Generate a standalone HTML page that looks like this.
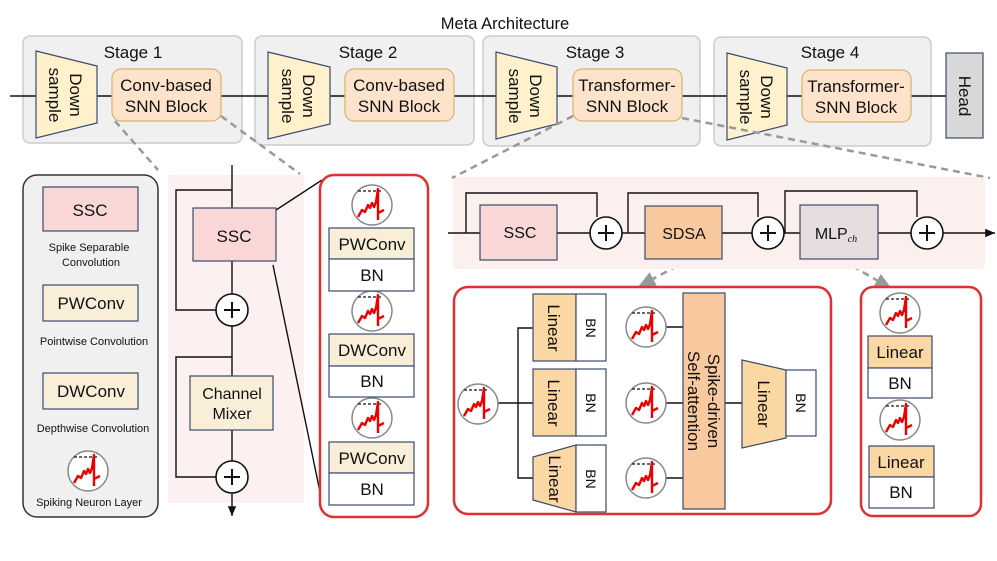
<!DOCTYPE html>
<html><head><meta charset="utf-8"><style>
html,body{margin:0;padding:0;background:#fff}
svg{display:block}
text{font-family:"Liberation Sans",sans-serif;fill:#111}
</style></head><body>
<svg width="997" height="561" viewBox="0 0 997 561" xmlns="http://www.w3.org/2000/svg">
<defs>
<symbol id="nr" viewBox="-21 -21 42 42" overflow="visible">
<circle cx="0" cy="0" r="20" fill="#fff" stroke="#888" stroke-width="1.5"/>
<line x1="-14" y1="-14" x2="9" y2="-14" stroke="#111" stroke-width="1.2" stroke-dasharray="3,2"/>
<path d="M-14,12 L-10,5 L-7,7 L-4,0 L-2,3 L0,-2 L2,2 L4,-3 L6,-16 L6,15 M6,8 L12,5" fill="none" stroke="#e00" stroke-width="2.4" stroke-linejoin="round"/>
</symbol>
<marker id="ar" markerWidth="8" markerHeight="8" refX="7" refY="4" orient="auto"><path d="M0,1 L7,4 L0,7z" fill="#111"/></marker>
<marker id="ag" markerWidth="8" markerHeight="8" refX="6" refY="4" orient="auto"><path d="M0,1 L7,4 L0,7z" fill="#999"/></marker>
</defs>

<text x="505" y="29" font-size="16.5" text-anchor="middle">Meta Architecture</text>

<g fill="#f0f0f0" stroke="#ccc" stroke-width="1.5">
<rect x="23" y="36" width="219" height="107" rx="7"/>
<rect x="255" y="36" width="219" height="109" rx="7"/>
<rect x="483" y="36" width="217" height="110" rx="7"/>
<rect x="714" y="37" width="217" height="109" rx="7"/>
</g>
<line x1="10" y1="96" x2="946" y2="96" stroke="#111" stroke-width="1.6"/>
<g font-size="17" text-anchor="middle">
<text x="133" y="58">Stage 1</text><text x="368" y="58">Stage 2</text><text x="595" y="58">Stage 3</text><text x="830" y="58">Stage 4</text>
</g>
<g fill="#fff1cc" stroke="#3b4a6b" stroke-width="1.2">
<path d="M36,51 L97,66 L97,123 L36,138z"/>
<path d="M268,52 L330,67 L330,124 L268,139z"/>
<path d="M496,52 L557,67 L557,124 L496,139z"/>
<path d="M727,53 L787,68 L787,125 L727,140z"/>
</g>
<g font-size="17" text-anchor="middle">
<text transform="translate(66,95) rotate(90)"><tspan x="0" y="-4">Down</tspan><tspan x="0" y="17">sample</tspan></text>
<text transform="translate(299,96) rotate(90)"><tspan x="0" y="-4">Down</tspan><tspan x="0" y="17">sample</tspan></text>
<text transform="translate(526,96) rotate(90)"><tspan x="0" y="-4">Down</tspan><tspan x="0" y="17">sample</tspan></text>
<text transform="translate(757,97) rotate(90)"><tspan x="0" y="-4">Down</tspan><tspan x="0" y="17">sample</tspan></text>
</g>
<g fill="#fde3cc" stroke="#d9b36a" stroke-width="1.2">
<rect x="112" y="69" width="109" height="52" rx="9"/>
<rect x="345" y="69" width="109" height="52" rx="9"/>
<rect x="573" y="69" width="109" height="52" rx="9"/>
<rect x="802" y="70" width="109" height="52" rx="9"/>
</g>
<g font-size="17" text-anchor="middle">
<text x="166" y="91">Conv-based</text><text x="166" y="112">SNN Block</text>
<text x="399" y="91">Conv-based</text><text x="399" y="112">SNN Block</text>
<text x="627" y="91">Transformer-</text><text x="627" y="112">SNN Block</text>
<text x="856" y="92">Transformer-</text><text x="856" y="113">SNN Block</text>
</g>
<rect x="946" y="53" width="37" height="85" fill="#d8d8d8" stroke="#3b4a6b" stroke-width="1.2"/>
<text transform="translate(965,96) rotate(90)" font-size="17" text-anchor="middle" y="6">Head</text>

<g stroke="#999" stroke-width="2.5" stroke-dasharray="7,5" fill="none">
<line x1="115" y1="121" x2="158" y2="170"/>
<line x1="221" y1="116" x2="300" y2="174"/>
<line x1="573" y1="116" x2="452" y2="178"/>
<line x1="682" y1="118" x2="990" y2="178"/>
<line x1="688" y1="260" x2="640" y2="286" marker-end="url(#ag)"/>
<line x1="842" y1="260" x2="890" y2="288" marker-end="url(#ag)"/>
</g>

<rect x="23" y="175" width="135" height="342" rx="14" fill="#f0f0f0" stroke="#333" stroke-width="1.5"/>
<rect x="43" y="187" width="95" height="44" fill="#f8d7d6" stroke="#3b4a6b" stroke-width="1.2"/>
<text x="90" y="216" font-size="17" text-anchor="middle">SSC</text>
<text x="89" y="251" font-size="11" text-anchor="middle">Spike Separable</text>
<text x="91" y="266" font-size="11" text-anchor="middle">Convolution</text>
<rect x="43" y="285" width="95" height="36" fill="#f9efd9" stroke="#3b4a6b" stroke-width="1.2"/>
<text x="91" y="309" font-size="17" text-anchor="middle">PWConv</text>
<text x="94" y="345" font-size="11" text-anchor="middle">Pointwise Convolution</text>
<rect x="43" y="373" width="95" height="36" fill="#f9efd9" stroke="#3b4a6b" stroke-width="1.2"/>
<text x="91" y="397" font-size="17" text-anchor="middle">DWConv</text>
<text x="93" y="432" font-size="11" text-anchor="middle">Depthwise Convolution</text>
<use href="#nr" x="67" y="450" width="42" height="42"/>
<text x="89" y="506" font-size="11" text-anchor="middle">Spiking Neuron Layer</text>

<rect x="168" y="175" width="136" height="328" fill="#fcf1f0"/>
<g stroke="#111" stroke-width="1.4" fill="none">
<line x1="232" y1="165" x2="232" y2="516" marker-end="url(#ar)"/>
<path d="M232,190 L176,190 L176,310 L216,310"/>
<path d="M232,357 L176,357 L176,477 L216,477"/>
<line x1="273" y1="212" x2="322" y2="180"/>
<line x1="273" y1="265" x2="320" y2="492"/>
</g>
<rect x="193" y="208" width="83" height="53" fill="#f8d7d6" stroke="#3b4a6b" stroke-width="1.2"/>
<text x="234" y="242" font-size="17" text-anchor="middle">SSC</text>
<rect x="190" y="376" width="83" height="54" fill="#f9efd9" stroke="#3b4a6b" stroke-width="1.2"/>
<text x="232" y="399" font-size="16" text-anchor="middle">Channel</text>
<text x="232" y="419" font-size="16" text-anchor="middle">Mixer</text>
<g fill="#fff" stroke="#111" stroke-width="1.6">
<circle cx="232" cy="310" r="16"/><circle cx="232" cy="477" r="16"/>
</g>
<g stroke="#111" stroke-width="2"><path d="M224,310h16M232,302v16M224,477h16M232,469v16"/></g>

<rect x="320" y="175" width="108" height="342" rx="14" fill="#fff" stroke="#e03030" stroke-width="2.5"/>
<use href="#nr" x="351" y="184" width="42" height="42"/>
<use href="#nr" x="351" y="290" width="42" height="42"/>
<use href="#nr" x="351" y="397" width="42" height="42"/>
<g stroke="#3b4a6b" stroke-width="1.2">
<rect x="329" y="228" width="85" height="31" fill="#f9efd9"/><rect x="329" y="259" width="85" height="32" fill="#fff"/>
<rect x="329" y="334" width="85" height="32" fill="#f9efd9"/><rect x="329" y="366" width="85" height="31" fill="#fff"/>
<rect x="329" y="442" width="85" height="31" fill="#f9efd9"/><rect x="329" y="473" width="85" height="32" fill="#fff"/>
</g>
<g font-size="17" text-anchor="middle">
<text x="372" y="250">PWConv</text><text x="372" y="281">BN</text>
<text x="372" y="356">DWConv</text><text x="372" y="387">BN</text>
<text x="372" y="464">PWConv</text><text x="372" y="495">BN</text>
</g>

<rect x="453" y="177" width="532" height="92" rx="5" fill="#fcf0ef"/>
<g stroke="#111" stroke-width="1.4" fill="none">
<line x1="448" y1="233" x2="995" y2="233" marker-end="url(#ar)"/>
<path d="M466,233 V193 H597 V217"/>
<path d="M628,233 V193 H758 V217"/>
<path d="M785,233 V191 H917 V217"/>
</g>
<rect x="480" y="205" width="77" height="55" fill="#f8d7d6" stroke="#3b4a6b" stroke-width="1.2"/>
<text x="520" y="238" font-size="16" text-anchor="middle">SSC</text>
<rect x="645" y="206" width="77" height="53" fill="#f8c99e" stroke="#3b4a6b" stroke-width="1.2"/>
<text x="684" y="239" font-size="16" text-anchor="middle">SDSA</text>
<rect x="800" y="205" width="78" height="54" fill="#e6dede" stroke="#3b4a6b" stroke-width="1.2"/>
<text x="836" y="239" font-size="16" text-anchor="middle">MLP<tspan font-size="10" font-style="italic" font-family="Liberation Serif" dy="3">ch</tspan></text>
<g fill="#fff" stroke="#111" stroke-width="1.6">
<circle cx="606" cy="233" r="16"/><circle cx="768" cy="233" r="16"/><circle cx="927" cy="233" r="16"/>
</g>
<g stroke="#111" stroke-width="2"><path d="M598,233h16M606,225v16M760,233h16M768,225v16M919,233h16M927,225v16"/></g>

<rect x="454" y="287" width="377" height="227" rx="14" fill="#fff" stroke="#e03030" stroke-width="2.5"/>
<g stroke="#111" stroke-width="1.4" fill="none">
<line x1="498" y1="403" x2="533" y2="403"/>
<path d="M533,328 H518 V478 H533"/>
<line x1="664" y1="327" x2="683" y2="327"/>
<line x1="664" y1="403" x2="683" y2="403"/>
<line x1="664" y1="478" x2="683" y2="478"/>
<line x1="725" y1="403" x2="742" y2="403"/>
</g>
<use href="#nr" x="457" y="383" width="42" height="42"/>
<g stroke="#3b4a6b" stroke-width="1.2">
<rect x="533" y="294" width="43" height="67" fill="#fbd8a3"/><rect x="576" y="294" width="30" height="67" fill="#fff"/>
<rect x="533" y="369" width="43" height="67" fill="#fbd8a3"/><rect x="576" y="369" width="30" height="67" fill="#fff"/>
<path d="M533,457 L576,445 L576,512 L533,500z" fill="#fbd8a3"/><rect x="576" y="445" width="30" height="67" fill="#fff"/>
<rect x="683" y="293" width="42" height="216" fill="#f8c99e"/>
<path d="M742,360 L786,370 L786,438 L742,448z" fill="#fbd8a3"/><rect x="786" y="370" width="30" height="66" fill="#fff"/>
</g>
<use href="#nr" x="625" y="306" width="42" height="42"/>
<use href="#nr" x="625" y="382" width="42" height="42"/>
<use href="#nr" x="625" y="457" width="42" height="42"/>
<g font-size="17" text-anchor="middle">
<text transform="translate(554,328) rotate(90)" y="6">Linear</text>
<text transform="translate(554,403) rotate(90)" y="6">Linear</text>
<text transform="translate(555,479) rotate(90)" y="6">Linear</text>
<text transform="translate(764,404) rotate(90)" y="6">Linear</text>
<text transform="translate(704,401) rotate(90)"><tspan x="0" y="-4">Spike-driven</tspan><tspan x="0" y="16">Self-attention</tspan></text>
</g>
<g font-size="14" text-anchor="middle">
<text transform="translate(591,328) rotate(90)" y="5">BN</text>
<text transform="translate(591,403) rotate(90)" y="5">BN</text>
<text transform="translate(591,479) rotate(90)" y="5">BN</text>
<text transform="translate(801,403) rotate(90)" y="5">BN</text>
</g>

<rect x="861" y="287" width="120" height="229" rx="12" fill="#fff" stroke="#e03030" stroke-width="2.5"/>
<use href="#nr" x="879" y="292" width="42" height="42"/>
<use href="#nr" x="879" y="399" width="42" height="42"/>
<g stroke="#3b4a6b" stroke-width="1.2">
<rect x="868" y="336" width="64" height="32" fill="#fbd8a3"/><rect x="868" y="368" width="64" height="30" fill="#fff"/>
<rect x="869" y="446" width="65" height="31" fill="#fbd8a3"/><rect x="869" y="477" width="65" height="31" fill="#fff"/>
</g>
<g font-size="17" text-anchor="middle">
<text x="900" y="358">Linear</text><text x="900" y="389">BN</text>
<text x="901" y="468">Linear</text><text x="901" y="498">BN</text>
</g>
</svg>
</body></html>
